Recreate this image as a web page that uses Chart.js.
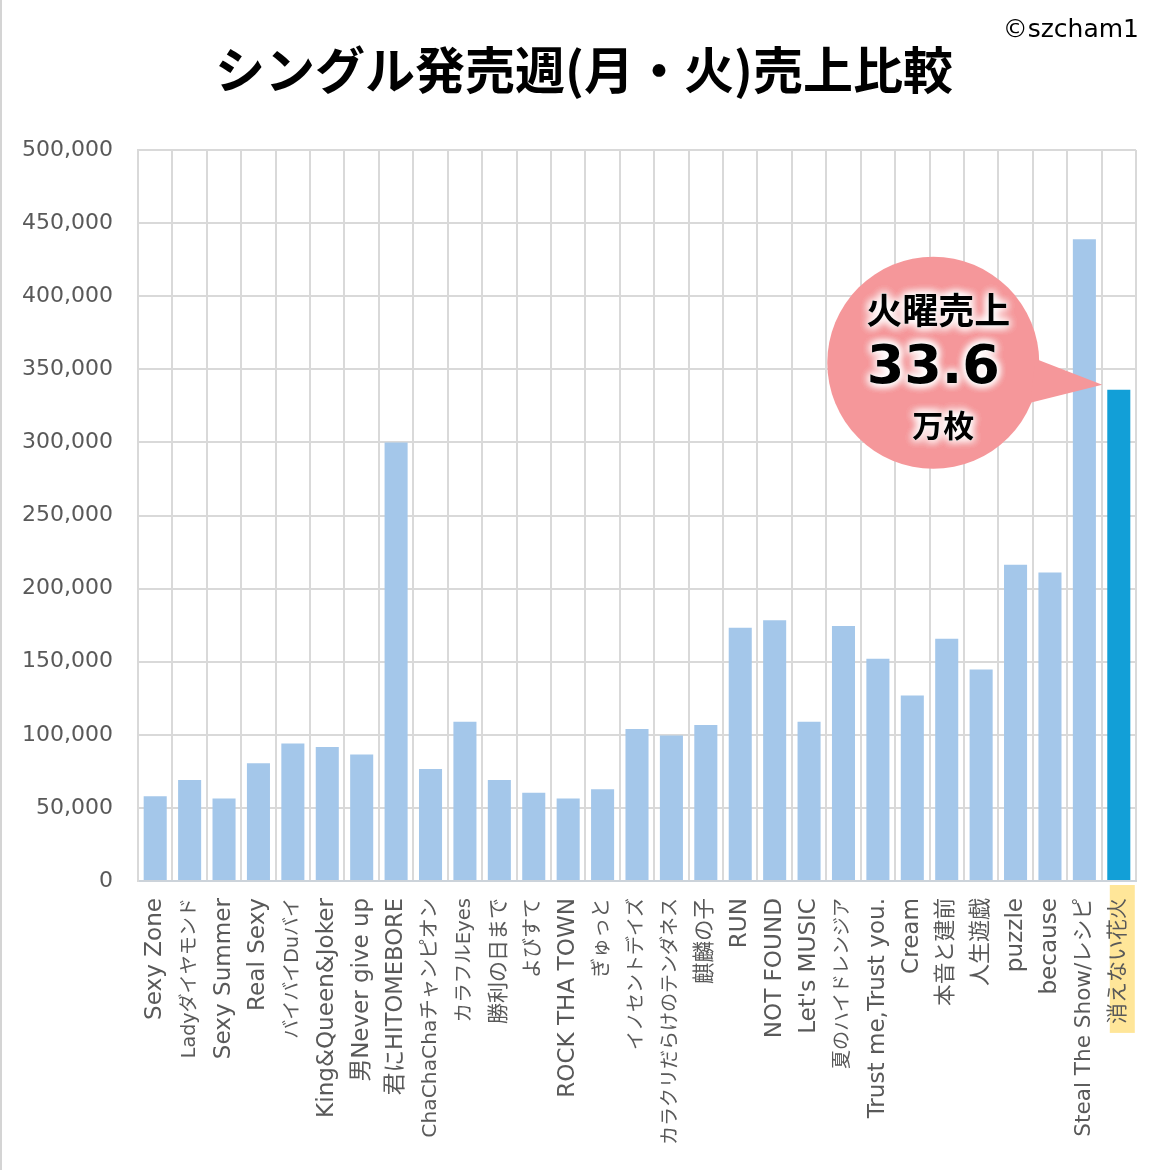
<!DOCTYPE html>
<html>
<head>
<meta charset="utf-8">
<script src="https://cdn.jsdelivr.net/npm/chart.js@4/dist/chart.umd.min.js"></script>
<style>
    html, body { margin: 0; padding: 0; background: #ffffff; }
    #wrap { width: 1170px; height: 1170px; position: relative; }
</style>
</head>
<body>
<div id="wrap"><canvas id="salesChart" width="1170" height="1170"></canvas></div>
<script>
// シングル発売週(月・火)売上比較 - data

const singles = [
    'Sexy Zone', 'Ladyダイヤモンド', 'Sexy Summer', 'Real Sexy', 'バイバイDuバイ',
    'King&Queen&Joker', '男Never give up', '君にHITOMEBORE', 'ChaChaChaチャンピオン', 'カラフルEyes',
    '勝利の日まで', 'よびすて', 'ROCK THA TOWN', 'ぎゅっと', 'イノセントデイズ',
    'カラクリだらけのテンダネス', '麒麟の子', 'RUN', 'NOT FOUND', "Let's MUSIC",
    '夏のハイドレンジア', 'Trust me,Trust you.', 'Cream', '本音と建前', '人生遊戯',
    'puzzle', 'because', 'Steal The Show/レシピ', '消えない花火'
];

const sales = [
    58000, 69000, 56500, 80500, 94000,
    91700, 86500, 300000, 76600, 109000,
    69000, 60300, 56500, 62700, 104000,
    99500, 106700, 173300, 178300, 109000,
    174500, 152000, 126800, 165700, 144600,
    216300, 211000, 439000, 336000
];

const yTicks = [0, 50000, 100000, 150000, 200000, 250000, 300000, 350000, 400000, 450000, 500000];

const titleText = 'シングル発売週(月・火)売上比較';
const creditText = '©szcham1';
const calloutLines = ['火曜売上', '33.6', '万枚'];

const barColor = '#a4c7ea';
const highlightColor = '#129fd7';
const gridColor = '#d9d9d9';
const textColor = '#595959';
const fontFamily = "'DejaVu Sans', 'Noto Sans CJK JP', sans-serif";
const jpFont = "'Noto Sans CJK JP', 'DejaVu Sans', sans-serif";

const lastIdx = sales.length - 1;

// the original font has wide latin letters and narrow katakana,
// so each label gets a size that brings its length close to the original
const measureCtx = document.createElement('canvas').getContext('2d');
const labelFontSize = (label) => {
    const kata = (label.match(/[\u30a0-\u30ff]/g) || []).length;
    const hira = (label.match(/[\u3040-\u309f]/g) || []).length;
    const kanji = (label.match(/[\u4e00-\u9fff]/g) || []).length;
    const cjk = kata + hira + kanji;
    measureCtx.font = '21px ' + fontFamily;
    const w = measureCtx.measureText(label).width;
    const latinW = w - cjk * 21;
    const target = latinW * 1.1 + kanji * 22 + hira * 20 + kata * 17.5;
    return Math.max(19, Math.min(23.5, 21 * target / w));
};

// background, border, title and the yellow marker behind the last label
const decorPlugin = {
    id: 'decor',
    beforeDraw: (chart) => {
        const ctx = chart.ctx;
        ctx.save();
        ctx.fillStyle = '#ffffff';
        ctx.fillRect(0, 0, chart.width, chart.height);
        ctx.fillStyle = '#d4d4d4';
        ctx.fillRect(0, 0, 2, chart.height);

        // highlight behind 消えない花火
        const xs = chart.scales.x;
        const cx = xs.getPixelForValue(lastIdx);
        ctx.font = labelFontSize(singles[lastIdx]) + 'px ' + fontFamily;
        const w = ctx.measureText(singles[lastIdx]).width;
        ctx.fillStyle = '#ffe699';
        ctx.fillRect(cx - 9, xs.top + 4, 25, w + 22);

        // title
        ctx.fillStyle = '#000000';
        ctx.textAlign = 'center';
        ctx.textBaseline = 'middle';
        ctx.font = 'bold 50px ' + jpFont;
        ctx.fillText(titleText, 584, 70);

        ctx.font = '25px ' + fontFamily;
        ctx.textAlign = 'right';
        ctx.fillText(creditText, 1139, 30);
        ctx.restore();
    },
    afterDatasetsDraw: (chart) => {
        const ctx = chart.ctx;
        const bar = chart.getDatasetMeta(0).data[lastIdx];
        const tipX = bar.x - bar.width / 2 - 5;
        const tipY = bar.y - 5;
        const cx = tipX - 169;
        const cy = tipY - 22;
        const r = 106;

        ctx.save();
        ctx.fillStyle = '#f5979a';
        ctx.beginPath();
        ctx.arc(cx, cy, r, 0, Math.PI * 2);
        ctx.fill();
        ctx.beginPath();
        ctx.moveTo(cx + 102, cy - 4);
        ctx.lineTo(tipX, tipY);
        ctx.lineTo(cx + 97, cy + 40);
        ctx.closePath();
        ctx.fill();

        const parts = [
            { text: calloutLines[0], font: 'bold 36px ' + jpFont, x: cx + 5, y: cy - 52 },
            { text: calloutLines[1], font: 'bold 54px ' + fontFamily, x: cx, y: cy + 6 },
            { text: calloutLines[2], font: 'bold 31px ' + jpFont, x: cx + 10, y: cy + 62 }
        ];
        ctx.textAlign = 'center';
        ctx.textBaseline = 'middle';
        parts.forEach(p => {
            ctx.font = p.font;
            // white glow
            ctx.shadowColor = '#ffffff';
            ctx.shadowBlur = 10;
            ctx.fillStyle = '#ffffff';
            for (let i = 0; i < 4; i++) ctx.fillText(p.text, p.x, p.y);
            ctx.shadowBlur = 0;
            ctx.fillStyle = '#000000';
            ctx.fillText(p.text, p.x, p.y);
        });
        ctx.restore();
    }
};

const ctx = document.getElementById('salesChart').getContext('2d');
new Chart(ctx, {
    type: 'bar',
    data: {
        labels: singles,
        datasets: [{
            data: sales,
            backgroundColor: sales.map((v, i) => i === lastIdx ? highlightColor : barColor),
            borderWidth: 0,
            barPercentage: 0.67,
            categoryPercentage: 1.0
        }]
    },
    options: {
        responsive: false,
        animation: false,
        devicePixelRatio: 1,
        layout: { padding: { top: 150, right: 34, left: 0, bottom: 0 } },
        plugins: {
            legend: { display: false },
            tooltip: { enabled: false }
        },
        scales: {
            x: {
                offset: true,
                grid: { color: gridColor, lineWidth: 2, offset: true, drawTicks: false },
                border: { color: '#ccd3da', width: 2 },
                ticks: {
                    color: textColor,
                    font: (c) => ({ size: labelFontSize(singles[c.index] || ''), family: fontFamily }),
                    minRotation: 90,
                    maxRotation: 90,
                    autoSkip: false,
                    padding: 17
                },
                afterFit: (scale) => { scale.height = 289; }
            },
            y: {
                min: 0,
                max: 500000,
                afterBuildTicks: (scale) => { scale.ticks = yTicks.map(v => ({ value: v })); },
                grid: { color: gridColor, lineWidth: 2, drawTicks: false },
                border: { color: gridColor, width: 2 },
                ticks: {
                    color: textColor,
                    font: { size: 22, family: fontFamily },
                    padding: 25,
                    callback: (value) => value.toLocaleString('en-US')
                },
                afterFit: (scale) => { scale.width = 138; }
            }
        }
    },
    plugins: [decorPlugin]
});
</script>
</body>
</html>
